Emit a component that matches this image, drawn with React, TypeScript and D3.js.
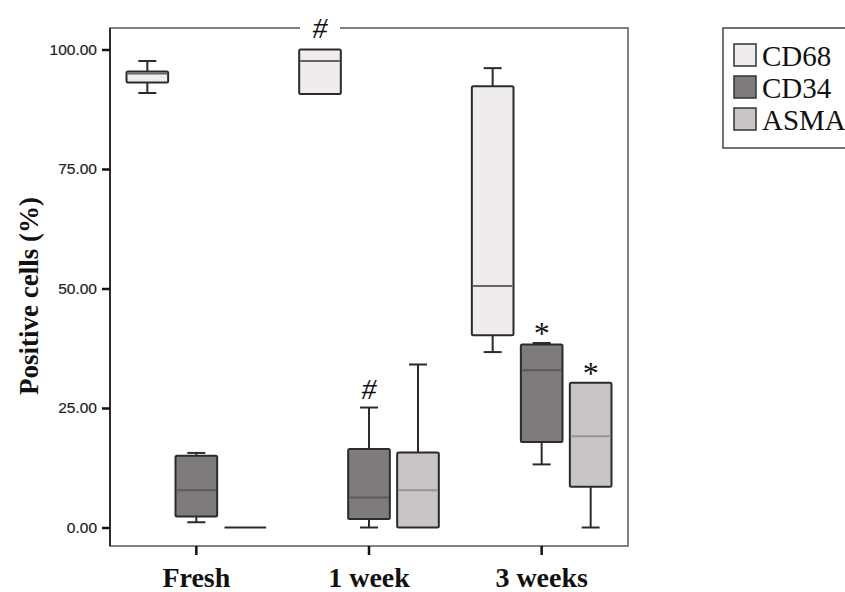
import { useEffect, useRef } from 'react';
import * as d3 from 'd3';

const categories = ["Fresh", "1 week", "3 weeks"];
const series = ["CD68", "CD34", "ASMA"];
const tickValues = [0, 25, 50, 75, 100];

// [lower whisker, Q1, median, Q3, upper whisker] per category
const cd68Stats = [
  [90.9, 93.1, 95.0, 95.4, 97.6],
  [90.7, 90.7, 97.6, 100, 100],
  [36.7, 40.2, 50.5, 92.3, 96.1],
];
const cd34Stats = [
  [1.1, 2.3, 7.8, 15.0, 15.6],
  [0, 1.8, 6.3, 16.4, 25.1],
  [13.2, 17.9, 32.9, 38.3, 38.6],
];
const asmaStats = [
  [0, 0, 0, 0, 0],
  [0, 0, 7.8, 15.7, 34.1],
  [0, 8.5, 19.1, 30.3, 30.3],
];

// significance marks: [category, series, symbol]
const marks: [string, string, string][] = [
  ["1 week", "CD34", "#"],
  ["3 weeks", "CD34", "*"],
  ["3 weeks", "ASMA", "*"],
];
const topMark: [string, string, string] = ["1 week", "CD68", "#"];

const fills: Record<string, string> = { CD68: "#f0ecec", CD34: "#7f7b7b", ASMA: "#c9c5c4" };
const medianColors: Record<string, string> = { CD68: "#666", CD34: "#5e5a5a", ASMA: "#9a9696" };

export default function App() {
  const svgRef = useRef<SVGSVGElement>(null);

  useEffect(() => {
    if (!svgRef.current) return;
    const svg = d3.select(svgRef.current);
    svg.selectAll("*").remove();

    const left = 110, right = 628, top = 28, bottom = 546;
    const statsBySeries: Record<string, number[][]> = { CD68: cd68Stats, CD34: cd34Stats, ASMA: asmaStats };

    const x0 = d3.scaleBand().domain(categories).range([left, right]);
    const x1 = d3.scaleBand().domain(series).range([-73.5, 73.5]).paddingInner(0.15).paddingOuter(0.075);
    const y = d3.scaleLinear().domain([0, 100]).range([527.5, 49.5]);
    const bw = x1.bandwidth();
    const cap = 18;
    const serif = "'Liberation Serif', 'Times New Roman', serif";

    svg.append("rect").attr("width", 845).attr("height", 592).attr("fill", "#fff");

    // frame
    svg.append("rect")
      .attr("x", left).attr("y", top).attr("width", right - left).attr("height", bottom - top)
      .attr("fill", "none").attr("stroke", "#5a5a5a").attr("stroke-width", 1.5);
    svg.append("line").attr("x1", left).attr("x2", left).attr("y1", top).attr("y2", bottom)
      .attr("stroke", "#111").attr("stroke-width", 1.5);

    // y axis
    const yAxis = svg.append("g").attr("transform", `translate(${left},0)`)
      .call(d3.axisLeft(y).tickValues(tickValues).tickFormat(d3.format(".2f")).tickSize(8).tickPadding(5));
    yAxis.select(".domain").remove();
    yAxis.selectAll("line").attr("stroke", "#111").attr("stroke-width", 2.5);
    yAxis.selectAll("text").attr("font-family", "'Liberation Sans', Arial, sans-serif")
      .attr("font-size", 15.5).attr("fill", "#222").attr("stroke", "#222").attr("stroke-width", 0.2);

    // x axis
    const xAxis = svg.append("g").attr("transform", `translate(0,${bottom})`)
      .call(d3.axisBottom(x0).tickSize(9).tickPadding(12));
    xAxis.select(".domain").remove();
    xAxis.selectAll("line").attr("stroke", "#111").attr("stroke-width", 2.5);
    xAxis.selectAll("text").attr("font-family", serif)
      .attr("font-size", 28).attr("font-weight", "bold").attr("fill", "#111");

    // y label
    svg.append("text")
      .attr("transform", `translate(38,${(top + bottom) / 2 + 9}) rotate(-90)`)
      .attr("text-anchor", "middle")
      .attr("font-family", serif)
      .attr("font-size", 27).attr("font-weight", "bold").attr("fill", "#111")
      .text("Positive cells (%)");

    const centerOf = (cat: string, s: string) =>
      (x0(cat) as number) + x0.bandwidth() / 2 + (x1(s) as number) + bw / 2;

    // boxes
    categories.forEach((cat, ci) => {
      series.forEach((s) => {
        const [lo, q1, med, q3, hi] = statsBySeries[s][ci];
        const cx = centerOf(cat, s);
        const g = svg.append("g");
        const stroke = "#2b2b2b";
        if (hi > q3) {
          g.append("line").attr("x1", cx).attr("x2", cx).attr("y1", y(hi)).attr("y2", y(q3)).attr("stroke", stroke).attr("stroke-width", 2);
          g.append("line").attr("x1", cx - cap / 2).attr("x2", cx + cap / 2).attr("y1", y(hi)).attr("y2", y(hi)).attr("stroke", stroke).attr("stroke-width", 2);
        }
        if (lo < q1) {
          g.append("line").attr("x1", cx).attr("x2", cx).attr("y1", y(q1)).attr("y2", y(lo)).attr("stroke", stroke).attr("stroke-width", 2);
          g.append("line").attr("x1", cx - cap / 2).attr("x2", cx + cap / 2).attr("y1", y(lo)).attr("y2", y(lo)).attr("stroke", stroke).attr("stroke-width", 2);
        }
        if (q3 > q1) {
          g.append("rect")
            .attr("x", cx - bw / 2).attr("y", y(q3)).attr("width", bw).attr("height", y(q1) - y(q3))
            .attr("rx", 1.5)
            .attr("fill", fills[s]).attr("stroke", stroke).attr("stroke-width", 2);
          g.append("line").attr("x1", cx - bw / 2 + 1).attr("x2", cx + bw / 2 - 1).attr("y1", y(med)).attr("y2", y(med))
            .attr("stroke", medianColors[s]).attr("stroke-width", 2);
        } else {
          // collapsed box: all values equal
          g.append("line").attr("x1", cx - bw / 2).attr("x2", cx + bw / 2).attr("y1", y(q1)).attr("y2", y(q1))
            .attr("stroke", stroke).attr("stroke-width", 2);
        }
      });
    });

    // significance marks above whiskers
    marks.forEach(([cat, s, sym]) => {
      const ci = categories.indexOf(cat);
      const hi = statsBySeries[s][ci][4];
      const t = svg.append("text")
        .attr("x", centerOf(cat, s))
        .attr("text-anchor", "middle")
        .attr("font-family", serif)
        .attr("fill", "#111")
        .text(sym);
      if (sym === "#") {
        t.attr("y", y(hi) - 9).attr("font-size", 30).attr("font-style", "italic");
      } else {
        t.attr("y", y(hi) + 1).attr("font-size", 32);
      }
    });

    // mark sitting on the top frame
    const tx = centerOf(topMark[0], topMark[1]);
    svg.append("rect").attr("x", tx - 20).attr("y", top - 3).attr("width", 40).attr("height", 6).attr("fill", "#fff");
    svg.append("text").attr("x", tx).attr("y", top + 10).attr("text-anchor", "middle")
      .attr("font-family", serif)
      .attr("font-size", 30).attr("font-style", "italic").attr("fill", "#111")
      .text(topMark[2]);

    // legend
    const lg = svg.append("g");
    lg.append("rect").attr("x", 723).attr("y", 28).attr("width", 140).attr("height", 120)
      .attr("fill", "#fff").attr("stroke", "#444").attr("stroke-width", 1.5);
    series.forEach((s, i) => {
      const yy = 44 + i * 32;
      lg.append("rect").attr("x", 734).attr("y", yy).attr("width", 22).attr("height", 22)
        .attr("fill", fills[s]).attr("stroke", "#333").attr("stroke-width", 1.5);
      lg.append("text").attr("x", 762).attr("y", yy + 22)
        .attr("font-family", serif)
        .attr("font-size", 29).attr("fill", "#111").text(s);
    });
  }, []);

  return (
    <div style={{ position: 'absolute', left: 0, top: 0, width: 845, height: 592, overflow: 'hidden', background: '#fff' }}>
      <svg ref={svgRef} width={845} height={592} viewBox="0 0 845 592"></svg>
    </div>
  );
}
